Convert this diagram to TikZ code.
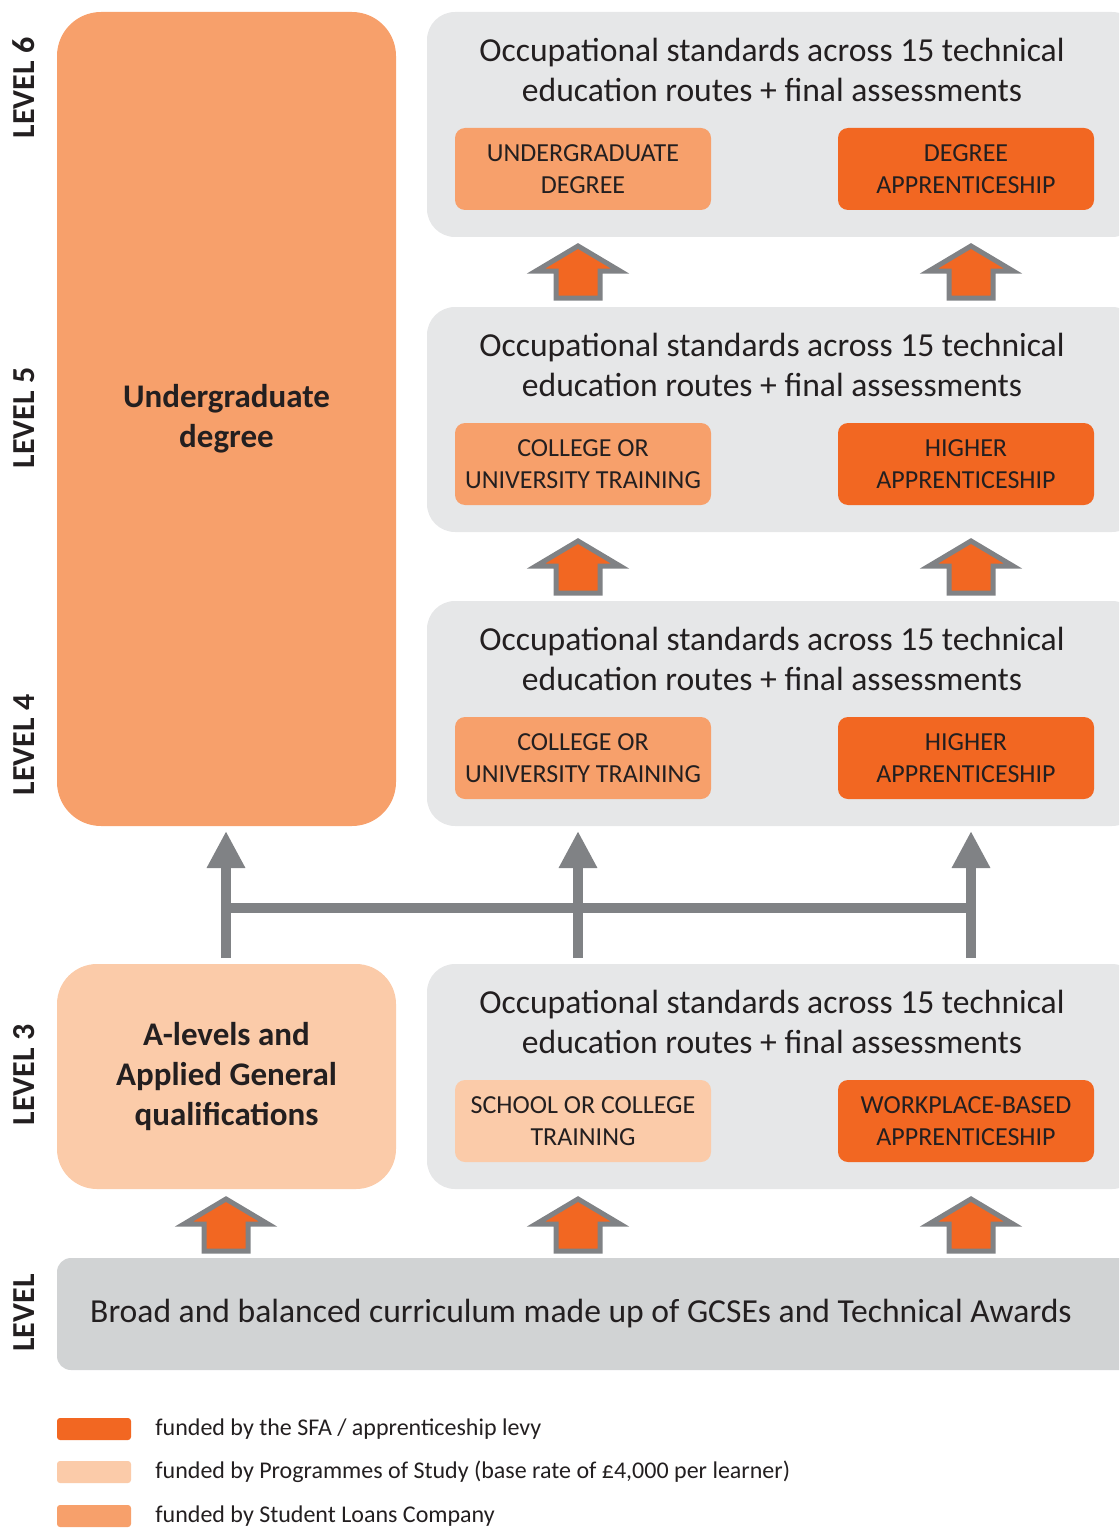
\documentclass[tikz,border=0pt]{standalone}
\usepackage{fontspec}
\setmainfont{Carlito}
\usetikzlibrary{arrows.meta}
\definecolor{dorange}{HTML}{F26722}
\definecolor{morange}{HTML}{F7A06B}
\definecolor{lorange}{HTML}{FBCBA9}
\definecolor{panelgray}{HTML}{E6E7E8}
\definecolor{basegray}{HTML}{D1D3D4}
\definecolor{arrgray}{HTML}{808285}
\definecolor{txt}{HTML}{231F20}
\tikzset{
  panel/.style={fill=panelgray, rounded corners=14pt, minimum width=356.5pt, minimum height=112.5pt, inner sep=0pt},
  inbox/.style={rounded corners=5pt, minimum width=128pt, minimum height=41pt, inner sep=0pt, align=center, text=txt, font=\fontsize{13}{16}\selectfont},
  bigbox/.style={rounded corners=22pt, minimum width=169.5pt, inner sep=0pt, align=center, text=txt, font=\bfseries\fontsize{16.5}{20}\selectfont},
  title/.style={align=center, text=txt, font=\fontsize{16.8}{20}\selectfont},
  lvl/.style={rotate=90, text=txt, font=\bfseries\fontsize{16}{19}\selectfont},
  swatch/.style={rounded corners=1.5pt, minimum width=37pt, minimum height=11pt, inner sep=0pt},
  legtext/.style={anchor=west, text=txt, font=\fontsize{12}{14}\selectfont, inner sep=0pt},
  conn/.style={draw=arrgray, line width=5pt},
  connarrow/.style={conn, -{Triangle[width=18pt,length=18.5pt]}},
  uparrow/.pic={
    \draw[fill=dorange, draw=arrgray, line width=2.5pt, line join=miter]
      (-42,31) -- (0,6) -- (42,31) -- (22,31) -- (22,58) -- (-22,58) -- (-22,31) -- cycle;
  }
}
\begin{document}
\begin{tikzpicture}[x=0.5pt,y=-0.5pt]
\useasboundingbox (0,0) rectangle (1119,1530);
\clip (0,0) rectangle (1119,1530);

% big undergraduate degree box
\node[bigbox, fill=morange, minimum height=407pt] (ug) at (226.5,419) {Undergraduate\\degree};

% panels
\foreach \n/\top in {p6/12, p5/307, p4/601, p3/964}{
  \node[panel] (\n) at (783.5,\top+112.5) {};
}
\foreach \n/\top in {t6/12, t5/307, t4/601, t3/964}{
  \node[title] (\n) at (772,\top+58) {Occupational standards across 15 technical\\education routes + final assessments};
}

% inner boxes
\node[inbox, fill=morange] (l6) at (583,169) {UNDERGRADUATE\\DEGREE};
\node[inbox, fill=dorange] (r6) at (966,169) {DEGREE\\APPRENTICESHIP};
\node[inbox, fill=morange] (l5) at (583,464) {COLLEGE OR\\UNIVERSITY TRAINING};
\node[inbox, fill=dorange] (r5) at (966,464) {HIGHER\\APPRENTICESHIP};
\node[inbox, fill=morange] (l4) at (583,758) {COLLEGE OR\\UNIVERSITY TRAINING};
\node[inbox, fill=dorange] (r4) at (966,758) {HIGHER\\APPRENTICESHIP};
\node[inbox, fill=lorange] (l3) at (583,1121) {SCHOOL OR COLLEGE\\TRAINING};
\node[inbox, fill=dorange] (r3) at (966,1121) {WORKPLACE-BASED\\APPRENTICESHIP};

% level 3 left box
\node[bigbox, fill=lorange, minimum height=112.5pt, rounded corners=20pt] (al) at (226.5,1076.5) {A-levels and\\Applied General\\qualifications};

% bottom base box
\node[fill=basegray, rounded corners=7pt, minimum width=541.5pt, minimum height=56pt, inner sep=0pt] (base) at (598.5,1314) {};
\node[title] (basetxt) at (581,1314) {Broad and balanced curriculum made up of GCSEs and Technical Awards};

% level labels
\node[lvl] (lv6) at (24,88) {LEVEL 6};
\node[lvl] (lv5) at (24,418) {LEVEL 5};
\node[lvl] (lv4) at (24,745) {LEVEL 4};
\node[lvl] (lv3) at (24,1075) {LEVEL 3};
\node[lvl] (lv2) at (24,1313) {LEVEL};

% orange up arrows
\foreach \cx/\ty in {578/240, 971/240, 578/535, 971/535, 226/1193, 578/1193, 971/1193}{
  \pic at (\cx,\ty) {uparrow};
}

% gray connectors
\coordinate (b1) at (226,958);
\coordinate (b2) at (578,958);
\coordinate (b3) at (971,958);
\coordinate (e1) at (226,831);
\coordinate (e2) at (578,831);
\coordinate (e3) at (971,831);
\coordinate (h1) at (221,908);
\coordinate (h3) at (976,908);
\draw[conn] (h1) -- (h3);
\draw[connarrow] (b1) -- (e1);
\draw[connarrow] (b2) -- (e2);
\draw[connarrow] (b3) -- (e3);

% legend
\node[swatch, fill=dorange] (s1) at (94,1429) {};
\node[swatch, fill=lorange] (s2) at (94,1472) {};
\node[swatch, fill=morange] (s3) at (94,1516) {};
\node[legtext] (g1) at (155,1429) {funded by the SFA / apprenticeship levy};
\node[legtext] (g2) at (155,1472) {funded by Programmes of Study (base rate of £4,000 per learner)};
\node[legtext] (g3) at (155,1516) {funded by Student Loans Company};
\end{tikzpicture}
\end{document}
